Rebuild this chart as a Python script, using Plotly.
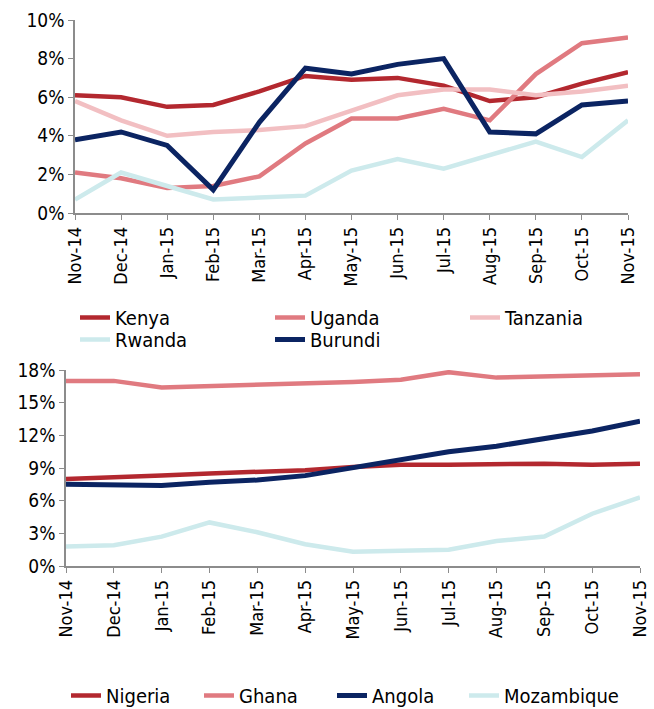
import plotly.graph_objects as go
from plotly.subplots import make_subplots

months = ["Nov-14", "Dec-14", "Jan-15", "Feb-15", "Mar-15", "Apr-15", "May-15",
          "Jun-15", "Jul-15", "Aug-15", "Sep-15", "Oct-15", "Nov-15"]

kenya = [6.1, 6.0, 5.5, 5.6, 6.3, 7.1, 6.9, 7.0, 6.6, 5.8, 6.0, 6.7, 7.3]
uganda = [2.1, 1.8, 1.3, 1.4, 1.9, 3.6, 4.9, 4.9, 5.4, 4.8, 7.2, 8.8, 9.1]
tanzania = [5.8, 4.8, 4.0, 4.2, 4.3, 4.5, 5.3, 6.1, 6.4, 6.4, 6.1, 6.3, 6.6]
rwanda = [0.7, 2.1, 1.4, 0.7, 0.8, 0.9, 2.2, 2.8, 2.3, 3.0, 3.7, 2.9, 4.8]
burundi = [3.8, 4.2, 3.5, 1.2, 4.7, 7.5, 7.2, 7.7, 8.0, 4.2, 4.1, 5.6, 5.8]

nigeria = [8.0, 8.1, 8.3, 8.5, 8.6, 8.8, 9.1, 9.3, 9.3, 9.4, 9.4, 9.3, 9.4]
ghana = [17.0, 17.0, 16.4, 16.5, 16.6, 16.8, 16.9, 17.1, 17.8, 17.3, 17.4, 17.4, 17.6]
angola = [7.5, 7.5, 7.4, 7.7, 7.9, 8.3, 9.0, 9.7, 10.5, 11.0, 11.7, 12.4, 13.3]
mozambique = [1.8, 1.9, 2.7, 4.0, 3.1, 2.0, 1.3, 1.4, 1.5, 2.3, 2.7, 4.8, 6.3]

top_ticks = [0, 2, 4, 6, 8, 10]
bottom_ticks = [0, 3, 6, 9, 12, 15, 18]

C_DARKRED = "#B3282F"
C_PINK = "#E07A80"
C_LIGHTPINK = "#F2BFC2"
C_LIGHTBLUE = "#CDEAEC"
C_NAVY = "#0B2462"

FONT = "DejaVu Sans Condensed, DejaVu Sans, sans-serif"

fig = make_subplots(rows=2, cols=1)

top_series = [("Kenya", kenya, C_DARKRED, 4.5, "legend"),
              ("Uganda", uganda, C_PINK, 4.5, "legend"),
              ("Tanzania", tanzania, C_LIGHTPINK, 4.5, "legend"),
              ("Rwanda", rwanda, C_LIGHTBLUE, 4.5, "legend3"),
              ("Burundi", burundi, C_NAVY, 5, "legend3")]
for name, vals, col, w, lg in top_series:
    fig.add_trace(go.Scatter(x=months, y=vals, name=name, mode="lines",
                             line=dict(color=col, width=w), legend=lg), row=1, col=1)

bottom_series = [("Nigeria", nigeria, C_DARKRED, 4.5, "legend2"),
                 ("Ghana", ghana, C_PINK, 4.5, "legend2"),
                 ("Angola", angola, C_NAVY, 5, "legend2"),
                 ("Mozambique", mozambique, C_LIGHTBLUE, 4.5, "legend4")]
for name, vals, col, w, lg in bottom_series:
    fig.add_trace(go.Scatter(x=months, y=vals, name=name, mode="lines",
                             line=dict(color=col, width=w), legend=lg), row=2, col=1)

W, H = 654, 709
axis_common = dict(showline=True, linecolor="#8c8c8c", linewidth=1.5, ticks="outside",
                   tickcolor="#8c8c8c", ticklen=5, showgrid=False, zeroline=False,
                   automargin=False)

fig.update_xaxes(type="category", range=[0, 12], tickangle=-90,
                 tickfont=dict(size=18, color="#000"), **axis_common)
fig.update_yaxes(tickfont=dict(size=19, color="#000"), **axis_common)

leg_common = dict(orientation="h", xanchor="left", yanchor="top", font=dict(size=20),
                  bgcolor="rgba(0,0,0,0)", tracegroupgap=0)

fig.update_layout(
    width=W, height=H, margin=dict(l=0, r=0, t=0, b=0, autoexpand=False),
    plot_bgcolor="white", paper_bgcolor="white",
    font=dict(family=FONT, color="#000"),
    xaxis=dict(domain=[75 / W, 628 / W]),
    yaxis=dict(domain=[1 - 213 / H, 1 - 20 / H], range=[0, 10], tickvals=top_ticks,
               ticktext=[f"{v}%" for v in top_ticks]),
    xaxis2=dict(domain=[66 / W, 640 / W]),
    yaxis2=dict(domain=[1 - 566 / H, 1 - 370 / H], range=[0, 18], tickvals=bottom_ticks,
                ticktext=[f"{v}%" for v in bottom_ticks]),
    legend=dict(x=75 / W, y=1 - 298 / H, entrywidth=150, **leg_common),
    legend3=dict(x=75 / W, y=1 - 320 / H, entrywidth=150, **leg_common),
    legend2=dict(x=66 / W, y=1 - 676 / H, entrywidth=88, **leg_common),
    legend4=dict(x=464 / W, y=1 - 676 / H, **leg_common),
    showlegend=True,
)

fig.write_html("out.html", config={"displayModeBar": False},
               post_script="document.body.style.margin='0';document.body.style.overflow='hidden';")
